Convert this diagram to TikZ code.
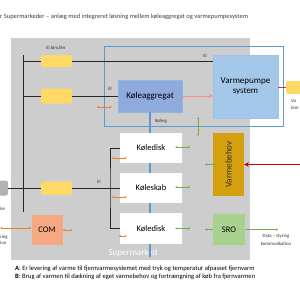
\documentclass[tikz,border=0pt]{standalone}
\usepackage{fontspec}
\setmainfont{Carlito}
\usetikzlibrary{arrows.meta, positioning}
\definecolor{smgray}{HTML}{CDCDCD}
\definecolor{smblue}{HTML}{5B9BD5}
\definecolor{kolblue}{HTML}{8FAADC}
\definecolor{vpblue}{HTML}{A4C8EA}
\definecolor{bimyellow}{HTML}{FFD966}
\definecolor{arrorange}{HTML}{ED7D31}
\definecolor{arrgreen}{HTML}{70AD47}
\definecolor{vbgold}{HTML}{D4A00F}
\definecolor{srogreen}{HTML}{A9D18E}
\definecolor{comsalmon}{HTML}{F4A983}
\definecolor{heatred}{HTML}{C00000}
\definecolor{pinkarrow}{HTML}{F4908A}
\tikzset{
  bimaaler/.style={fill=bimyellow, rounded corners=2pt, minimum width=31pt,
    minimum height=13pt, inner sep=0pt},
  unitbox/.style={minimum width=62pt, minimum height=30pt, inner sep=0pt,
    font=\fontsize{8.5}{10}\selectfont},
  bus/.style={black!85, line width=0.6pt},
  oarrow/.style={arrorange, line width=0.5pt,
    {Stealth[length=2.2pt,width=2pt]}-{Stealth[length=2.2pt,width=2pt]}},
  garrow/.style={arrgreen, line width=0.5pt,
    {Stealth[length=2.2pt,width=2pt]}-{Stealth[length=2.2pt,width=2pt]}},
  smalltext/.style={inner sep=0pt, font=\fontsize{4.8}{5.5}\selectfont, text=black!80}
}
\begin{document}
\begin{tikzpicture}[x=1pt, y=-1pt]
  \useasboundingbox (0,0) rectangle (300,300);
  \fill[white] (0,0) rectangle (300,300);
  % title (cut at the left)
  \node[anchor=west, inner sep=0pt, font=\fontsize{6.5}{7}\selectfont, text=black!75] (title) at (0,17)
    {r Supermarkeder -- anlæg med integreret løsning mellem køleaggregat og varmepumpesystem};

  % supermarked
  \fill[smgray] (11,38) rectangle (250,260);
  \node[text=white, font=\fontsize{9}{10}\selectfont] (smlabel) at (133,253) {Supermarked};
  \draw[smblue, line width=0.9pt] (104,46) rectangle (283,126);

  % units
  \node[unitbox, fill=kolblue, draw=smblue!70, minimum width=64pt, minimum height=32pt,
    font=\fontsize{9}{10}\selectfont] (kol) at (150,96) {Køleaggregat};
  \node[unitbox, fill=vpblue, draw=smblue!60, minimum width=65pt, minimum height=63pt,
    font=\fontsize{9}{10.5}\selectfont, align=center] (vp) at (245.5,86.5) {Varmepumpe\\system};
  \draw[smblue!60, line width=0.4pt] (vp.south west) -- (vp.north east);
  \draw[smblue, line width=1.6pt] (kol.south) -- (150,257);
  \node[unitbox, fill=white] (kd1) at (151,148) {Køledisk};
  \node[unitbox, fill=white] (ks) at (151,188) {Køleskab};
  \node[unitbox, fill=white, minimum height=31pt] (kd2) at (151,228.5) {Køledisk};
  \node[unitbox, fill=vbgold, minimum width=31pt, minimum height=63pt] (vb) at (228.5,164.5) {};
  \node[rotate=90, font=\fontsize{9}{10}\selectfont, text=black!80] (vbtext) at (vb.center) {Varmebehov};
  \node[unitbox, fill=srogreen, minimum width=32pt, minimum height=31pt] (sro) at (229,229.5) {SRO};
  \node[unitbox, fill=comsalmon, minimum width=31pt, minimum height=30pt] (com) at (47,230) {COM};

  % el bimaalere
  \node[bimaaler, minimum height=12pt] (bim1) at (56.5,61) {};
  \node[bimaaler, minimum height=15pt] (bim2) at (56.5,96) {};
  \node[bimaaler] (bim3) at (56.5,188) {};
  \node[fill=black!30, rounded corners=2pt, minimum width=14pt, minimum height=15pt, inner sep=0pt]
    (lext) at (1,188) {};
  \node[bimaaler, minimum width=16pt] (rbim) at (294,87.5) {};

  % el lines
  \coordinate (bustop) at (23,55);
  \coordinate (busbot) at (23,212);
  \coordinate (brk) at (110,188);
  \draw[bus] (bustop) -- (busbot);
  \draw[bus] (bustop |- bim1) -- (bim1.west);
  \draw[bus] (bim1.east) -- (bim1 -| vp.west);
  \draw[bus] (bustop |- bim2) -- (bim2.west);
  \draw[bus] (bim2.east) -- (kol.west);
  \draw[bus] (lext.east) -- (bim3.west);
  \draw[bus] (bim3.east) -- (ks.west);
  \draw[bus] (kd1.west) -| (brk) |- (kd2.west);
  \draw[heatred!80, line width=0.8pt] (vp.east |- rbim) -- (rbim.west);

  % labels
  \node[smalltext] (bimlabel) at (56,48) {El bimåler};
  \node[smalltext] (el1) at (205,56) {El};
  \node[smalltext] (el2) at (110,89) {El};
  \node[smalltext] (el3) at (99,182) {El};
  \node[smalltext] (koling) at (161,121) {Køling};
  \node[smalltext, anchor=west] (lextlabel) at (0,209) {ler};
  \node[smalltext, anchor=west] (ldata1) at (0,237) {ring};
  \node[smalltext, anchor=west] (ldata2) at (0,243) {ion};
  \node[smalltext, anchor=west] (rbim1) at (291,101) {Va};
  \node[smalltext, anchor=west] (rbim2) at (291,108) {bim};
  \node[smalltext, align=center, font=\fontsize{4.8}{7.5}\selectfont] (data) at (276,240)
    {Data -- styring\\kommunikation};

  % flows
  \draw[pinkarrow, line width=1pt, -{Stealth[length=4pt,width=4pt]}] (kol.east) -- (kol.east -| vp.west);
  \coordinate (heatin) at (300,164.5);
  \draw[heatred, line width=1.2pt, -{Stealth[length=4.5pt,width=4.5pt]}] (heatin) -- (vb.east);
  \draw[oarrow] ([xshift=-21pt,yshift=-11pt]kol.west) -- ++(15,0);
  \draw[oarrow] ([xshift=-8pt]kd1.west |- 0,158) -- ++(15,0);
  \draw[oarrow] ([xshift=-8pt]ks.west |- 0,197) -- ++(15,0);
  \draw[oarrow] ([xshift=-1pt]kd2.west |- 0,236) -- ++(8,0);
  \draw[oarrow] (com.east) -- ++(10,0);
  \coordinate (comin) at (0,228);
  \draw[oarrow] (comin) -- (com.west |- comin);
  \draw[garrow] ([xshift=-7pt,yshift=1pt]kd1.east) -- ++(15,0);
  \draw[garrow] ([xshift=-7pt,yshift=1pt]ks.east) -- ++(15,0);
  \draw[garrow] ([xshift=-7pt]kd2.east) -- ++(15,0);
  \draw[garrow] ([xshift=-8pt]vb.west) -- ++(12,0);
  \draw[garrow] ([xshift=-8pt]sro.west) -- (sro.west);
  \draw[garrow, line width=0.8pt] (sro.east) -- ++(33,0);
  \draw[garrow] (198,117) -- (198,136);

  % notes
  \node[anchor=west, inner sep=0pt, font=\fontsize{6.6}{7}\selectfont] (noteA) at (15,269)
    {\textbf{A}: Er levering af varme til fjernvarmesystemet med tryk og temperatur afpasset fjernvarm};
  \node[anchor=west, inner sep=0pt, font=\fontsize{6.6}{7}\selectfont] (noteB) at (15,277)
    {\textbf{B}: Brug af varmen til dækning af eget varmebehov og fortrængning af køb fra fjernvarmen};
\end{tikzpicture}
\end{document}
